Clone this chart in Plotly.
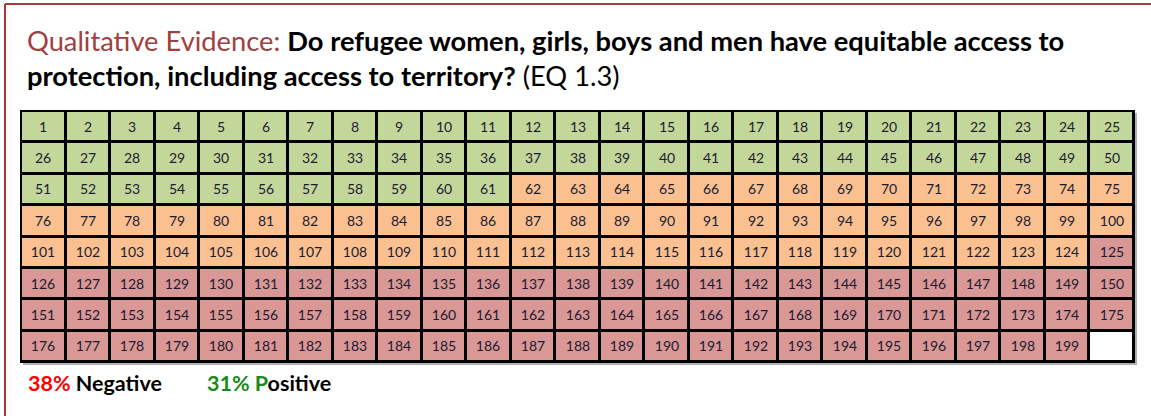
import plotly.graph_objects as go

# ---- data ----
n_positive = 61      # cells 1..61 (green)
n_mixed = 63         # cells 62..124 (orange)
n_negative = 75      # cells 125..199 (red)
n_cols = 25
n_rows = 8
pct_negative_label = "38%"
pct_positive_label = "31%"
title_prefix = "Qualitative Evidence:"
title_line1 = "Do refugee women, girls, boys and men have equitable access to"
title_line2_bold = "protection, including access to territory?"
title_line2_tail = "(EQ 1.3)"

colors = ["#C4D79B", "#FAC090", "#D99795", "#FFFFFF"]

total = n_positive + n_mixed + n_negative
z, text = [], []
for r in range(n_rows):
    zr, tr = [], []
    for c in range(n_cols):
        k = r * n_cols + c + 1
        if k <= n_positive:
            code = 0
        elif k <= n_positive + n_mixed:
            code = 1
        elif k <= total:
            code = 2
        else:
            code = 3
        zr.append(code)
        tr.append(str(k) if k <= total else "")
    z.append(zr)
    text.append(tr)

W, H = 1151, 416
def px(x):
    return x / W
def py(y):
    return 1 - y / H

FONT = "Lato"

cs = [[0, colors[0]], [0.25, colors[0]], [0.25, colors[1]], [0.5, colors[1]],
      [0.5, colors[2]], [0.75, colors[2]], [0.75, colors[3]], [1, colors[3]]]

fig = go.Figure(go.Heatmap(
    z=z, text=text, texttemplate="%{text}",
    textfont=dict(family=FONT, size=14, color="#1B1B30"),
    colorscale=cs, zmin=0, zmax=3, showscale=False,
    xgap=3, ygap=3, hoverinfo="skip",
))

gx0, gx1, gy0, gy1 = 20, 1135, 110, 363
dx = 1.0 * n_cols / (gx1 - gx0)   # ~1px in data units
dy = 1.0 * n_rows / (gy1 - gy0)

fig.update_layout(
    width=W, height=H,
    margin=dict(l=0, r=0, t=0, b=0),
    paper_bgcolor="white", plot_bgcolor="black",
    showlegend=False,
    xaxis=dict(domain=[px(gx0), px(gx1)], range=[-0.5 - dx, n_cols - 0.5 + dx],
               showgrid=False, zeroline=False, showticklabels=False, fixedrange=True),
    yaxis=dict(domain=[py(gy1), py(gy0)], range=[n_rows - 0.5 + dy, -0.5 - dy],
               showgrid=False, zeroline=False, showticklabels=False, fixedrange=True),
)

# frame lines
border = "#A23B3B"
fig.add_shape(type="line", xref="paper", yref="paper", x0=px(5), x1=1, y0=py(4), y1=py(4),
              line=dict(color=border, width=2))
fig.add_shape(type="line", xref="paper", yref="paper", x0=px(5), x1=px(5), y0=py(4), y1=0,
              line=dict(color=border, width=2))
# subtle shadow
fig.add_shape(type="rect", xref="paper", yref="paper", x0=px(gx1), x1=px(gx1 + 2),
              y0=py(gy1 + 2), y1=py(gy0 + 3), line=dict(width=0), fillcolor="#B0B0B0")
fig.add_shape(type="rect", xref="paper", yref="paper", x0=px(gx0 + 3), x1=px(gx1 + 2),
              y0=py(gy1 + 2), y1=py(gy1), line=dict(width=0), fillcolor="#B0B0B0")

tf = dict(family=FONT, size=27.3, color="black")
fig.add_annotation(xref="paper", yref="paper", x=px(25), y=py(41), xanchor="left", yanchor="middle",
                   showarrow=False, font=tf,
                   text=f"<span style='color:#A0403F'>{title_prefix}</span> <b>{title_line1}</b>")
fig.add_annotation(xref="paper", yref="paper", x=px(25), y=py(75), xanchor="left", yanchor="middle",
                   showarrow=False, font=tf,
                   text=f"<b>{title_line2_bold}</b> {title_line2_tail}")

lf = dict(family=FONT, size=21.5, color="black")
fig.add_annotation(xref="paper", yref="paper", x=px(26), y=py(383), xanchor="left", yanchor="middle",
                   showarrow=False, font=lf,
                   text=f"<b><span style='color:#FF0000'>{pct_negative_label}</span> Negative</b>")
fig.add_annotation(xref="paper", yref="paper", x=px(205), y=py(383), xanchor="left", yanchor="middle",
                   showarrow=False, font=lf,
                   text=f"<b><span style='color:#1A8A1A'>{pct_positive_label} P</span>ositive</b>")

fig.write_html("out.html", config={"displayModeBar": False},
               post_script="document.body.style.margin='0';")
